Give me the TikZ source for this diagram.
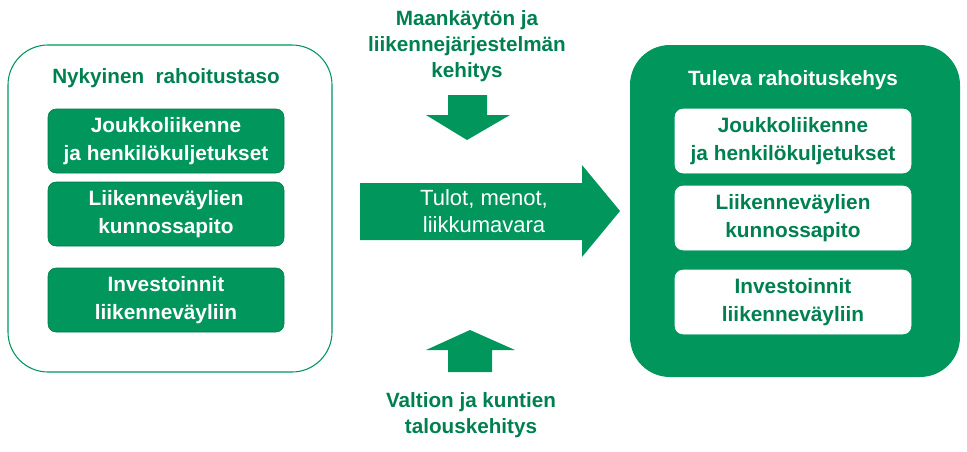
\documentclass[tikz,border=0pt]{standalone}
\usepackage{fontspec}
\setmainfont{Liberation Sans}
\definecolor{vihrea}{RGB}{0,150,92}
\definecolor{tumma}{RGB}{0,128,80}
\tikzset{
  laatikko/.style={rounded corners=6pt, minimum width=177pt, minimum height=48pt, align=center, font=\bfseries\fontsize{15.6}{20.5}\selectfont},
  vasen/.style={laatikko, fill=vihrea, draw=vihrea!80!black, text=white},
  oikea/.style={laatikko, fill=white, draw=white, text=tumma},
  otsikko/.style={font=\bfseries\fontsize{15.5}{19.5}\selectfont, text=tumma, align=center}
}
\begin{document}
\begin{tikzpicture}[x=0.75pt,y=-0.75pt]
\useasboundingbox (0,0) rectangle (967,451);
% kehykset
\draw[vihrea, rounded corners=30pt, line width=0.8pt] (8,45) rectangle (332,372);
\fill[vihrea, rounded corners=30pt] (630,45) rectangle (960,377);
\node[otsikko] (nyk) at (166,78) {Nykyinen\ \ rahoitustaso};
\node[otsikko, text=white] (tul) at (793,80) {Tuleva rahoituskehys};
% vasen
\node[vasen] (v1) at (166,141) {Joukkoliikenne\\ja henkilökuljetukset};
\node[vasen] (v2) at (166,214) {Liikenneväylien\\kunnossapito};
\node[vasen] (v3) at (166,300) {Investoinnit\\liikenneväyliin};
% oikea
\node[oikea] (o1) at (793,141) {Joukkoliikenne\\ja henkilökuljetukset};
\node[oikea] (o2) at (793,218) {Liikenneväylien\\kunnossapito};
\node[oikea] (o3) at (793,302) {Investoinnit\\liikenneväyliin};
% nuolet
\fill[vihrea] (360,183) -- (582,183) -- (582,165) -- (620,211) -- (582,257) -- (582,240) -- (360,240) -- cycle;
\node[text=white, align=center, font=\fontsize{16.5}{20}\selectfont] (tulot) at (484,211) {Tulot,\ menot,\\liikkumavara};
\fill[vihrea] (448,95) -- (487,95) -- (487,115) -- (510,115) -- (467,140) -- (426,115) -- (448,115) -- cycle;
\fill[vihrea] (448,372) -- (492,372) -- (492,350) -- (515,350) -- (470,330) -- (426,350) -- (448,350) -- cycle;
\node[otsikko] (maa) at (467,46) {Maankäytön ja\\liikennejärjestelmän\\kehitys};
\node[otsikko] (val) at (471,415) {Valtion ja kuntien\\talouskehitys};
\end{tikzpicture}
\end{document}
